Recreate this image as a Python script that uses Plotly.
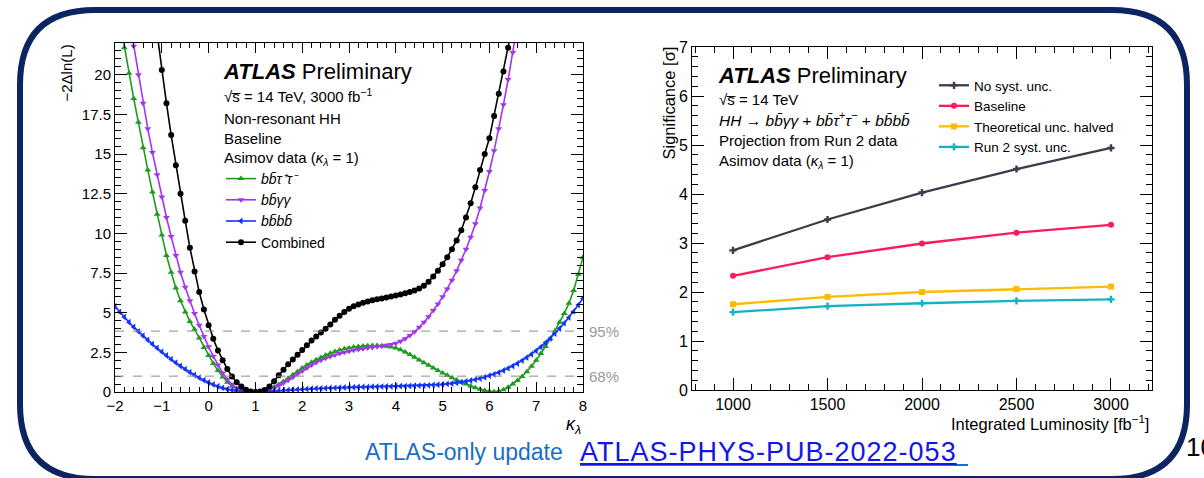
import plotly.graph_objects as go

W, H = 1204, 478
FONT = "Liberation Sans, Arial, sans-serif"

# ---------------- left panel data: likelihood scans ----------------
kappa = [-2.0, -1.9, -1.8, -1.7, -1.6, -1.5, -1.4, -1.3, -1.2, -1.1,
         -1.0, -0.9, -0.8, -0.7, -0.6, -0.5, -0.4, -0.3, -0.2, -0.1,
         0.0, 0.1, 0.2, 0.3, 0.4, 0.5, 0.6, 0.7, 0.8, 0.9,
         1.0, 1.1, 1.2, 1.3, 1.4, 1.5, 1.6, 1.7, 1.8, 1.9,
         2.0, 2.1, 2.2, 2.3, 2.4, 2.5, 2.6, 2.7, 2.8, 2.9,
         3.0, 3.1, 3.2, 3.3, 3.4, 3.5, 3.6, 3.7, 3.8, 3.9,
         4.0, 4.1, 4.2, 4.3, 4.4, 4.5, 4.6, 4.7, 4.8, 4.9,
         5.0, 5.1, 5.2, 5.3, 5.4, 5.5, 5.6, 5.7, 5.8, 5.9,
         6.0, 6.1, 6.2, 6.3, 6.4, 6.5, 6.6, 6.7, 6.8, 6.9,
         7.0, 7.1, 7.2, 7.3, 7.4, 7.5, 7.6, 7.7, 7.8, 7.9, 8.0]

nll_bbtautau = [25.1, 23.4, 21.7, 20.1, 18.5, 17.0, 15.4, 14.0, 12.6, 11.2,
                9.9, 8.6, 7.55, 6.55, 5.75, 5.05, 4.45, 3.95, 3.4, 2.8,
                2.3, 1.8, 1.35, 0.95, 0.62, 0.37, 0.2, 0.08, 0.02, 0.0,
                0.0, 0.02, 0.08, 0.18, 0.32, 0.48, 0.66, 0.86, 1.08, 1.3,
                1.52, 1.7, 1.88, 2.04, 2.18, 2.32, 2.44, 2.55, 2.64, 2.72,
                2.78, 2.83, 2.87, 2.9, 2.92, 2.93, 2.93, 2.92, 2.89, 2.84,
                2.77, 2.66, 2.52, 2.36, 2.19, 2.02, 1.85, 1.68, 1.51, 1.35,
                1.2, 1.05, 0.9, 0.76, 0.62, 0.5, 0.38, 0.27, 0.17, 0.09,
                0.04, 0.02, 0.05, 0.14, 0.3, 0.5, 0.72, 0.98, 1.28, 1.62,
                2.0, 2.42, 2.87, 3.35, 3.85, 4.4, 4.95, 5.6, 6.4, 7.4, 8.5]

nll_bbyy = [None, None, None, 23.6, 21.8, 20.0, 18.2, 16.6, 15.1, 13.7,
            12.3, 11.0, 9.8, 8.6, 7.55, 6.6, 5.75, 4.95, 4.2, 3.5,
            2.85, 2.25, 1.7, 1.2, 0.8, 0.48, 0.25, 0.1, 0.03, 0.0,
            0.0, 0.02, 0.07, 0.15, 0.26, 0.4, 0.56, 0.74, 0.93, 1.13,
            1.33, 1.52, 1.7, 1.86, 2.0, 2.12, 2.23, 2.33, 2.42, 2.5,
            2.57, 2.63, 2.68, 2.73, 2.77, 2.81, 2.85, 2.89, 2.94, 3.0,
            3.08, 3.2, 3.36, 3.56, 3.8, 4.08, 4.4, 4.75, 5.13, 5.55,
            6.0, 6.5, 7.05, 7.65, 8.3, 9.0, 9.75, 10.6, 11.6, 12.7,
            13.9, 15.2, 16.6, 18.1, 19.7, 21.4, 23.2, None, None, None,
            None, None, None, None, None, None, None, None, None, None, None]

nll_bbbb = [5.4, 5.05, 4.72, 4.4, 4.1, 3.82, 3.55, 3.28, 3.02, 2.77,
            2.53, 2.3, 2.07, 1.85, 1.64, 1.44, 1.25, 1.07, 0.9, 0.74,
            0.6, 0.47, 0.36, 0.26, 0.18, 0.12, 0.07, 0.04, 0.02, 0.0,
            0.0, 0.0, 0.02, 0.04, 0.06, 0.08, 0.1, 0.12, 0.14, 0.16,
            0.18, 0.19, 0.21, 0.22, 0.23, 0.24, 0.25, 0.26, 0.27, 0.28,
            0.29, 0.3, 0.31, 0.31, 0.32, 0.33, 0.33, 0.34, 0.35, 0.35,
            0.36, 0.37, 0.37, 0.38, 0.39, 0.4, 0.41, 0.42, 0.44, 0.46,
            0.48, 0.51, 0.54, 0.58, 0.62, 0.67, 0.72, 0.78, 0.85, 0.93,
            1.02, 1.12, 1.23, 1.35, 1.49, 1.64, 1.8, 1.98, 2.17, 2.38,
            2.6, 2.84, 3.1, 3.38, 3.68, 4.0, 4.34, 4.7, 5.08, 5.48, 5.9]

nll_combined = [None, None, None, None, None, None, None, None, None, 22.6,
                20.3, 18.2, 16.2, 14.3, 12.5, 10.8, 9.1, 7.6, 6.3, 5.2,
                4.2, 3.35, 2.62, 2.0, 1.45, 0.98, 0.62, 0.34, 0.14, 0.03,
                0.0, 0.03, 0.13, 0.35, 0.68, 1.05, 1.4, 1.75, 2.05, 2.35,
                2.65, 2.95, 3.25, 3.5, 3.75, 3.98, 4.25, 4.55, 4.8, 5.05,
                5.25, 5.4, 5.52, 5.62, 5.7, 5.78, 5.84, 5.9, 5.96, 6.02,
                6.08, 6.14, 6.22, 6.3, 6.4, 6.52, 6.7, 6.95, 7.28, 7.65,
                8.05, 8.5, 9.0, 9.55, 10.2, 11.0, 11.9, 12.9, 14.0, 15.0,
                16.0, 17.4, 18.8, 20.2, 21.7, 23.2, None, None, None, None,
                None, None, None, None, None, None, None, None, None, None, None]

cl95, cl68 = 3.84, 1.0
cl_labels = ["95%", "68%"]

# ---------------- right panel data: significance vs luminosity ----------------
lumi = [1000, 1500, 2000, 2500, 3000]
sig_no_syst = [2.85, 3.48, 4.03, 4.51, 4.94]
sig_baseline = [2.33, 2.71, 2.99, 3.21, 3.37]
sig_theory_half = [1.75, 1.90, 2.00, 2.06, 2.11]
sig_run2_syst = [1.59, 1.71, 1.77, 1.82, 1.85]

BB = "b\u0304"  # b-bar

fig = go.Figure()

left_series = [
    ("<i>b" + BB + "τ⁺τ⁻</i>", nll_bbtautau, "#1f9a1f", "triangle-up"),
    ("<i>b" + BB + "γγ</i>", nll_bbyy, "#a335f0", "triangle-down"),
    ("<i>b" + BB + "b" + BB + "</i>", nll_bbbb, "#1133ff", "triangle-left"),
    ("Combined", nll_combined, "#000000", "circle"),
]
for name, vals, col, sym in left_series:
    fig.add_trace(go.Scatter(
        x=kappa, y=vals, name=name, mode="lines+markers",
        line=dict(color=col, width=1.6),
        marker=dict(color=col, symbol=sym, size=6, line=dict(width=0)),
        xaxis="x", yaxis="y", legend="legend", connectgaps=False))

right_series = [
    ("No syst. unc.", sig_no_syst, "#3a3e4a", "cross"),
    ("Baseline", sig_baseline, "#ff1a5a", "circle"),
    ("Theoretical unc. halved", sig_theory_half, "#ffbb00", "square"),
    ("Run 2 syst. unc.", sig_run2_syst, "#17b1c4", "cross"),
]
for name, vals, col, sym in right_series:
    fig.add_trace(go.Scatter(
        x=lumi, y=vals, name=name, mode="lines+markers",
        line=dict(color=col, width=2.3),
        marker=dict(color=col, symbol=sym, size=6, line=dict(width=0)),
        xaxis="x2", yaxis="y2", legend="legend2"))


def px(x):
    return x / W


def py(y):
    return 1 - y / H


axis_common = dict(
    showline=True, linecolor="black", linewidth=1, mirror="allticks",
    ticks="inside", tickcolor="black", tickwidth=1,
    showgrid=False, zeroline=False, automargin=False,
)

fig.update_layout(
    width=W, height=H,
    margin=dict(l=0, r=0, t=0, b=0, autoexpand=False),
    paper_bgcolor="white", plot_bgcolor="white",
    font=dict(family=FONT, color="black"),
    showlegend=True,
    xaxis=dict(domain=[px(115), px(583)], range=[-2, 8], dtick=1, tick0=0,
               ticklen=10, anchor="y",
               tickfont=dict(family=FONT, size=15, color="black"),
               minor=dict(dtick=0.2, tick0=0, ticklen=5, ticks="inside", tickcolor="black"),
               **axis_common),
    yaxis=dict(domain=[py(392), py(43)], range=[0, 22], dtick=2.5, tick0=0,
               ticklen=12, anchor="x",
               tickfont=dict(family=FONT, size=15, color="black"),
               minor=dict(dtick=0.5, tick0=0, ticklen=6, ticks="inside", tickcolor="black"),
               **axis_common),
    xaxis2=dict(domain=[px(692), px(1152)], range=[783, 3217], dtick=500, tick0=0,
                ticklen=12, anchor="y2",
                tickfont=dict(family=FONT, size=16, color="black"),
                minor=dict(dtick=100, tick0=0, ticklen=6, ticks="inside", tickcolor="black"),
                **axis_common),
    yaxis2=dict(domain=[py(390), py(47)], range=[0, 7], dtick=1, tick0=0,
                ticklen=12, anchor="x2",
                tickfont=dict(family=FONT, size=16, color="black"),
                minor=dict(dtick=0.2, tick0=0, ticklen=6, ticks="inside", tickcolor="black"),
                **axis_common),
    legend=dict(x=px(221), y=py(163), xanchor="left", yanchor="top",
                bgcolor="rgba(0,0,0,0)", font=dict(family=FONT, size=14),
                itemwidth=30, tracegroupgap=0),
    legend2=dict(x=px(934), y=py(70), xanchor="left", yanchor="top",
                 bgcolor="rgba(0,0,0,0)", font=dict(family=FONT, size=13.5),
                 itemwidth=30, tracegroupgap=0),
)

# CL reference lines
for lvl, lab in zip([cl95, cl68], cl_labels):
    fig.add_shape(type="line", xref="x", yref="y", x0=-2, x1=8, y0=lvl, y1=lvl,
                  line=dict(color="#8a8a8a", width=1, dash="dash"))
    fig.add_annotation(xref="paper", yref="y", x=px(587), y=lvl, text=lab,
                       showarrow=False, xanchor="left", yanchor="middle",
                       font=dict(family=FONT, size=15, color="#9a9a9a"))

# rounded slide frame
x0, x1, y0, y1, r = px(20), px(1187), py(10), py(479), 75
rx, ry = r / W, r / H
path = (f"M {x0+rx},{y0} L {x1-rx},{y0} Q {x1},{y0} {x1},{y0-ry} "
        f"L {x1},{y1+ry} Q {x1},{y1} {x1-rx},{y1} "
        f"L {x0+rx},{y1} Q {x0},{y1} {x0},{y1+ry} "
        f"L {x0},{y0-ry} Q {x0},{y0} {x0+rx},{y0} Z")
fig.add_shape(type="path", xref="paper", yref="paper", path=path,
              line=dict(color="#0c2461", width=6), layer="below")


def txt(x, y, s, size=15, xanchor="left", yanchor="middle", color="black", angle=0):
    fig.add_annotation(xref="paper", yref="paper", x=px(x), y=py(y), text=s,
                       showarrow=False, xanchor=xanchor, yanchor=yanchor,
                       textangle=angle, font=dict(family=FONT, size=size, color=color))


KL = "<i>κ</i><sub><i>λ</i></sub>"
# left panel texts
txt(221, 72, "<b><i>ATLAS</i></b> Preliminary", size=22)
txt(222, 96, "√s\u0305 = 14 TeV, 3000 fb<sup>−1</sup>", size=15)
txt(222, 118, "Non-resonant HH", size=15)
txt(222, 138, "Baseline", size=15)
txt(222, 158, "Asimov data (" + KL + " = 1)", size=15)
txt(66, 43, "−2Δln(L)", size=15, xanchor="center", yanchor="top", angle=-90)
txt(583, 425, KL, size=18, xanchor="right")

# right panel texts
txt(716, 75, "<b><i>ATLAS</i></b> Preliminary", size=22)
txt(717, 99, "√s\u0305 = 14 TeV", size=15)
txt(717, 119, "<i>HH</i> → <i>b" + BB + "γγ</i> + <i>b" + BB + "τ</i><sup>+</sup><i>τ</i><sup>−</sup> + <i>b" + BB + "b" + BB + "</i>", size=15.5)
txt(717, 141, "Projection from Run 2 data", size=15)
txt(717, 162, "Asimov data (" + KL + " = 1)", size=15)
txt(668, 45, "Significance [σ]", size=16.5, xanchor="center", yanchor="top", angle=-90)
txt(1151, 423, "Integrated Luminosity [fb<sup>−1</sup>]", size=16.5, xanchor="right")

# footer
txt(565, 452, "ATLAS-only update", size=23, xanchor="right", color="#1a6fc0")
txt(578, 452, "<u><span style='letter-spacing:1px'>ATLAS-PHYS-PUB-2022-053</span></u>",
    size=27, color="#1515e8")
fig.add_shape(type="line", xref="paper", yref="paper", x0=px(955), x1=px(968),
              y0=py(465), y1=py(465), line=dict(color="#1a6fc0", width=2))
txt(1184, 447, "10", size=26, color="black")

fig.write_html("out.html")
